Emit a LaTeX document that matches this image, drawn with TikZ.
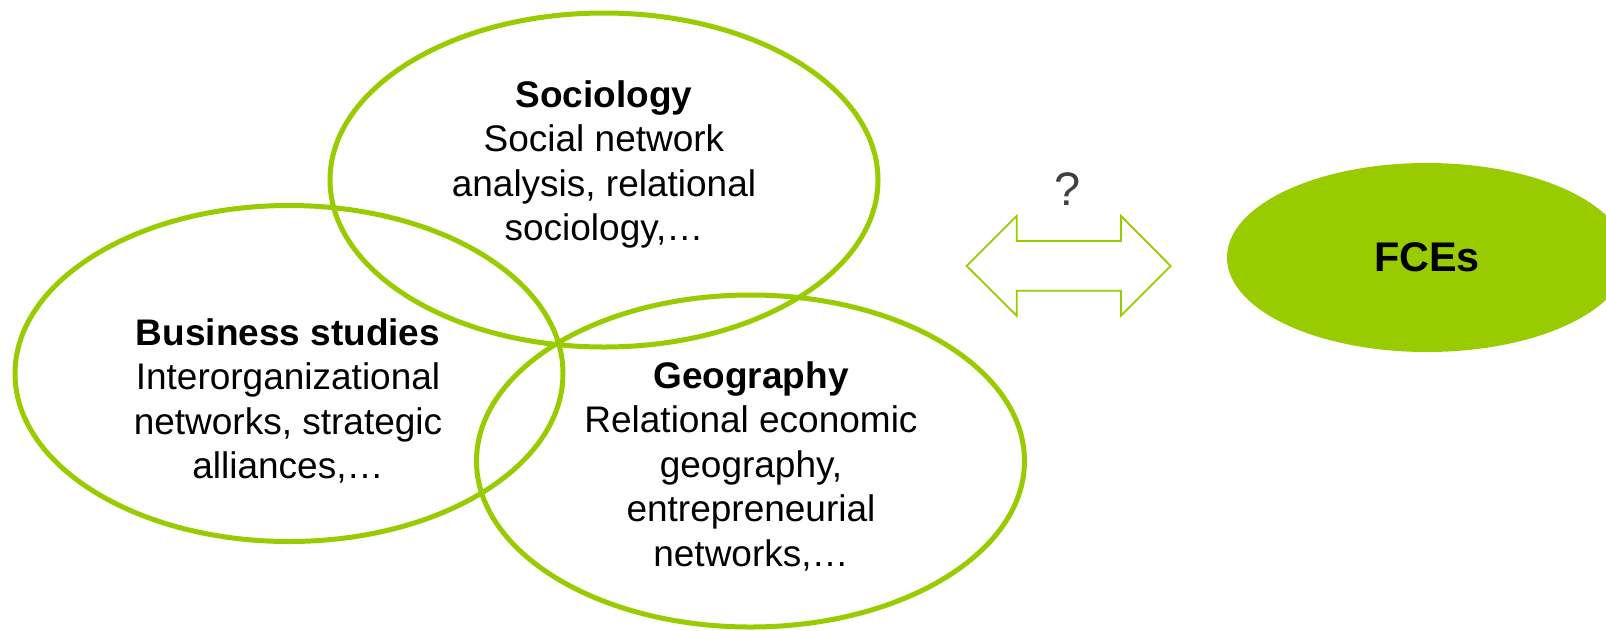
\documentclass[tikz,border=0pt]{standalone}
\usepackage{fontspec}
\setmainfont{Liberation Sans}
\usetikzlibrary{shapes.geometric}
\definecolor{fgreen}{HTML}{99CC00}
\definecolor{qgray}{HTML}{404040}
\begin{document}
\begin{tikzpicture}[x=1pt,y=-1pt,
  field/.style={ellipse, draw=fgreen, line width=5pt, minimum width=548pt, minimum height=334pt, inner sep=0pt},
  fieldtext/.style={anchor=base, inner sep=0pt, font=\fontsize{37}{44.5}\selectfont},
  bigarrow/.style={draw=fgreen, line width=1.8pt, line join=miter}
 ]
\clip (0,0) rectangle (1606,630);
\fill[white] (0,0) rectangle (1606,630);

% field ellipses
\node[field] (soc) at (604,180) {};
\node[field, minimum height=336pt] (bus) at (289,373.5) {};
\node[field, minimum height=332pt] (geo) at (750.5,461) {};

% texts
\node[fieldtext] (soctext) at (604,107)
  {\begin{tabular}[t]{@{}c@{}}\textbf{Sociology}\\Social network\\analysis, relational\\sociology,…\end{tabular}};
\node[fieldtext] (bustext) at (288,345)
  {\begin{tabular}[t]{@{}c@{}}\textbf{Business studies}\\Interorganizational\\networks, strategic\\alliances,…\end{tabular}};
\node[fieldtext] (geotext) at (751,388)
  {\begin{tabular}[t]{@{}c@{}}\textbf{Geography}\\Relational economic\\geography,\\entrepreneurial\\networks,…\end{tabular}};

% FCEs
\node[ellipse, fill=fgreen, minimum width=400pt, minimum height=189pt, inner sep=0pt,
      font=\bfseries\fontsize{41.4}{50}\selectfont] (fces) at (1427,257.5) {FCEs};

% question mark and double arrow
\node[anchor=base, inner sep=0pt, text=qgray, font=\fontsize{47}{56}\selectfont] (q) at (1068,205.7) {?};
\draw[bigarrow] (966.7,266) -- (1016.7,216) -- (1016.7,241) -- (1121,241) -- (1121,216)
  -- (1170.7,266) -- (1121,315.7) -- (1121,290.7) -- (1016.7,290.7) -- (1016.7,315.7) -- cycle;
\end{tikzpicture}
\end{document}
